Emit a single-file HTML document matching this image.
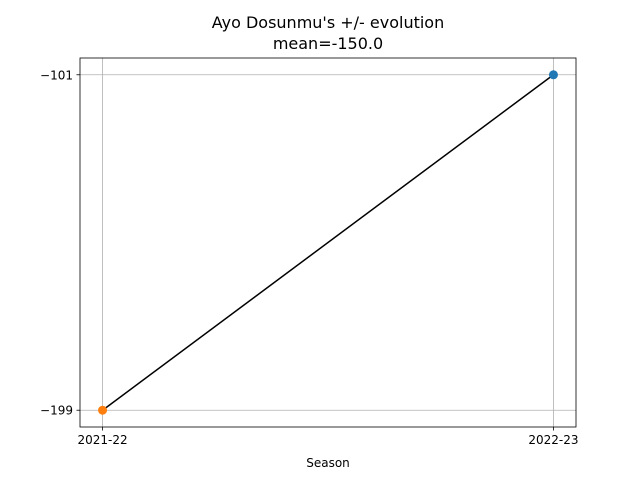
<!DOCTYPE html>
<html><head><meta charset="utf-8"><style>
body{margin:0;background:#fff}
svg{display:block;font-family:"DejaVu Sans","Liberation Sans",sans-serif}
</style></head><body>
<svg id="chart" width="640" height="480">
<text x="328" y="28" text-anchor="middle" font-size="16">Ayo Dosunmu's +/- evolution</text>
<text x="328" y="49" text-anchor="middle" font-size="16">mean=-150.0</text>
<g id="plot"></g>
<text x="328" y="467" text-anchor="middle" font-size="12">Season</text>
</svg>
<script>
const seasons=["2021-22","2022-23"];
const values=[-199,-101];
const colors=["#ff7f0e","#1f77b4"];
const yTicks=[-199,-101];
const yTickLabels=["\u2212199","\u2212101"];
const L=80,R=576,T=58,B=427;
const ns="http://www.w3.org/2000/svg";
const g=document.getElementById('plot');
function mk(t,a){const e=document.createElementNS(ns,t);for(const k in a)e.setAttribute(k,a[k]);g.appendChild(e);return e;}
const n=seasons.length;
const xs=i=>{const span=(n-1)||1;const pad=0.05*span;return L+(i+pad)/(span+2*pad)*(R-L);};
const vmin=Math.min(...values),vmax=Math.max(...values);
const vr=(vmax-vmin)||1;const lo=vmin-0.05*vr,hi=vmax+0.05*vr;
const ys=v=>B-(v-lo)/(hi-lo)*(B-T);
seasons.forEach((s,i)=>{
 const x=xs(i);
 let e=mk('line',{x1:x,x2:x,y1:T,y2:B,stroke:'#b0b0b0','stroke-width':0.8});
 
 e=mk('line',{x1:x,x2:x,y1:B,y2:B+3.5,stroke:'#000','stroke-width':0.8});
 
 e=mk('text',{x:x,y:B+17,'text-anchor':'middle','font-size':12});e.textContent=s;
 
});
yTicks.forEach((v,i)=>{
 const y=ys(v);
 let e=mk('line',{x1:L,x2:R,y1:y,y2:y,stroke:'#b0b0b0','stroke-width':0.8});
 
 e=mk('line',{x1:L-3.5,x2:L,y1:y,y2:y,stroke:'#000','stroke-width':0.8});
 
 e=mk('text',{x:L-7,y:y+4.5,'text-anchor':'end','font-size':12});e.textContent=yTickLabels[i];
 
});
let ln=mk('polyline',{points:values.map((v,i)=>xs(i)+','+ys(v)).join(' '),fill:'none',stroke:'#000','stroke-width':1.5});

values.forEach((v,i)=>{
 const c=mk('circle',{cx:xs(i),cy:ys(v),r:4.5,fill:colors[i]});
 
 
});
const fr=mk('rect',{x:L,y:T,width:R-L,height:B-T,fill:'none',stroke:'#000','stroke-width':0.8});

</script>
</body></html>
